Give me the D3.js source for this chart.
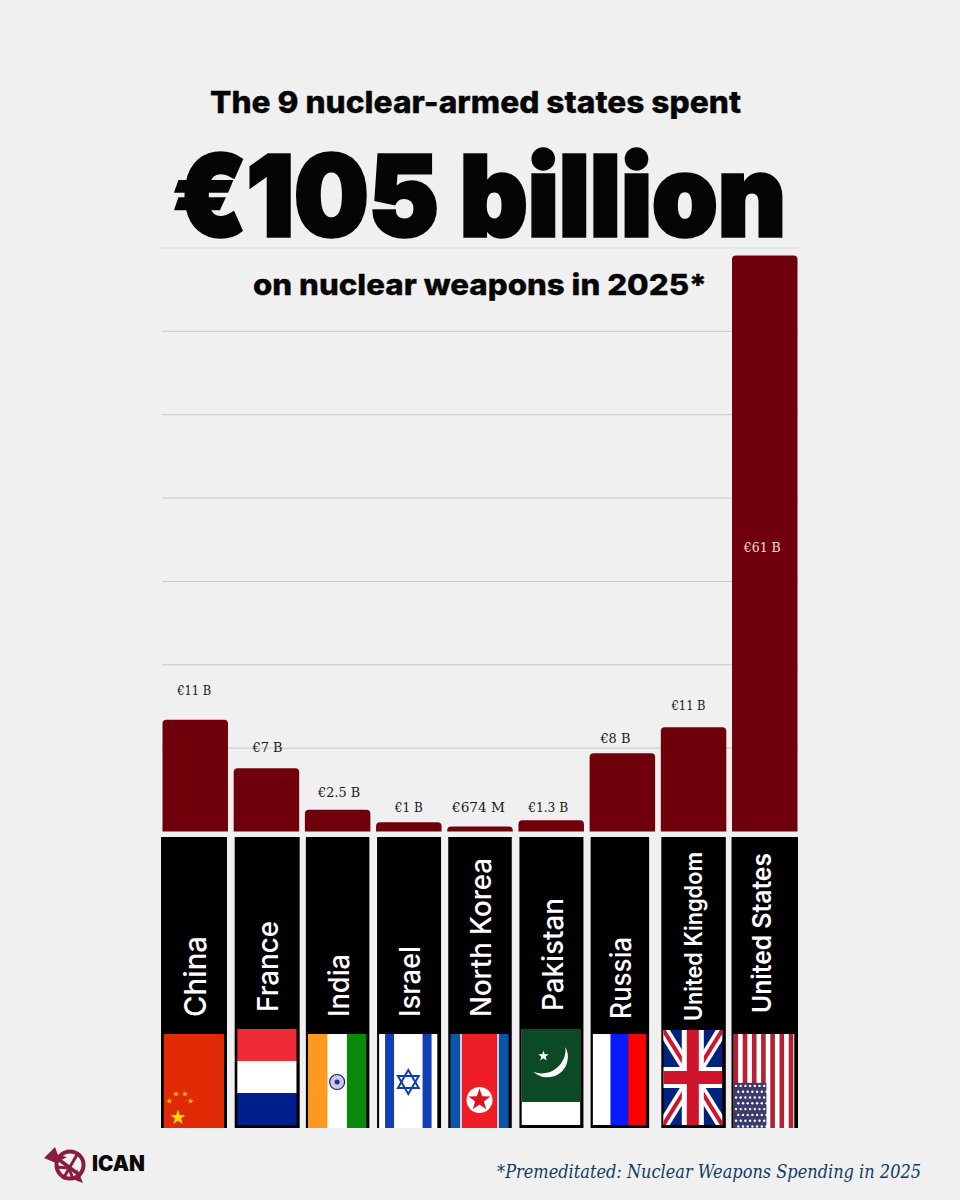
<!DOCTYPE html>
<html>
<head>
<meta charset="utf-8">
<script src="https://cdn.jsdelivr.net/npm/d3@7"></script>
<style>
  html, body { margin: 0; padding: 0; background: #f0f0f0; }
  svg { display: block; }
</style>
</head>
<body>
<div id="chart"></div>
<script>
// Data
const countries = ["China", "France", "India", "Israel", "North Korea", "Pakistan", "Russia", "United Kingdom", "United States"];
const barValues = [13.4, 7.6, 2.6, 1.1, 0.6, 1.35, 9.4, 12.5, 69.1];
const valueLabels = ["€11 B", "€7 B", "€2.5 B", "€1 B", "€674 M", "€1.3 B", "€8 B", "€11 B", "€61 B"];
const gridTicks = [0, 10, 20, 30, 40, 50, 60, 70];

const titleTop = "The 9 nuclear-armed states spent";
const titleBig = "€105 billion";
const titleSub = "on nuclear weapons in 2025*";
const sourceNote = "*Premeditated: Nuclear Weapons Spending in 2025";

// Layout
const W = 960, H = 1200;
const baseY = 831.5, topY = 248;
const panelTop = 837, panelBottom = 1128;

const svg = d3.select("#chart").append("svg").attr("width", W).attr("height", H);
svg.append("rect").attr("width", W).attr("height", H).attr("fill", "#f0f0f0");

const x = d3.scaleBand().domain(countries).range([162.5, 797.5]).paddingInner(0.08);
const y = d3.scaleLinear().domain([0, 70]).range([baseY, topY]);

// Gridlines
svg.append("g")
  .selectAll("line")
  .data(gridTicks.filter((d) => d > 0))
  .join("line")
  .attr("x1", 162)
  .attr("x2", 798)
  .attr("y1", (d) => y(d))
  .attr("y2", (d) => y(d))
  .attr("stroke", (d) => (d === 70 ? "#dcdcdc" : "#c8c8c8"))
  .attr("stroke-width", 1);

// Bars, rounded on top only
const barPath = (d, i) => {
  const x0 = x(countries[i]), x1 = x0 + x.bandwidth(), t = y(d), r = Math.min(4, baseY - t);
  return `M${x0},${baseY}V${t + r}Q${x0},${t} ${x0 + r},${t}H${x1 - r}Q${x1},${t} ${x1},${t + r}V${baseY}Z`;
};
svg.append("g")
  .selectAll("path")
  .data(barValues)
  .join("path")
  .attr("d", barPath)
  .attr("fill", "#6f000b");

// Value labels: the source places these by hand, so nudge each one
const labelNudge = [
  { dx: -1, lift: 29, len: 34 }, { dx: 1, lift: 20, len: 30 }, { dx: 1.5, lift: 17, len: 42 },
  { dx: 0, lift: 14, len: 28 }, { dx: -1.5, lift: 18, len: 53 }, { dx: -3, lift: 12, len: 40 },
  { dx: -7, lift: 14, len: 30 }, { dx: -5, lift: 21, len: 34 }, { dx: -2.5, lift: 0, len: 37 },
];
svg.append("g")
  .selectAll("text")
  .data(valueLabels)
  .join("text")
  .attr("x", (d, i) => x(countries[i]) + x.bandwidth() / 2 + labelNudge[i].dx)
  .attr("y", (d, i) => (i === 8 ? 552 : y(barValues[i]) - labelNudge[i].lift + 4))
  .attr("text-anchor", "middle")
  .attr("font-family", "'DejaVu Serif', serif")
  .attr("font-size", 13)
  .attr("textLength", (d, i) => labelNudge[i].len)
  .attr("lengthAdjust", "spacingAndGlyphs")
  .attr("fill", (d, i) => (i === 8 ? "#f3dede" : "#1a1a1a"))
  .text((d) => d);

// Flags, each drawn in its own local box
const flags = {
  China(g, w, h) {
    g.append("rect").attr("width", w).attr("height", h).attr("fill", "#e02a06");
    star(g, 14.5, h - 10.5, 8, "#ffd500");
    [[5.8, h - 27], [12.5, h - 34], [21.5, h - 34], [27, h - 27]].forEach(([a, b]) => star(g, a, b, 3.2, "#ffb400"));
  },
  France(g, w, h) {
    ["#ef2b38", "#ffffff", "#001f8e"].forEach((c, i) =>
      g.append("rect").attr("y", (i * h) / 3).attr("width", w).attr("height", h / 3 + 0.5).attr("fill", c));
  },
  India(g, w, h) {
    ["#ff9a1f", "#ffffff", "#0a8a0a"].forEach((c, i) =>
      g.append("rect").attr("x", (i * w) / 3).attr("width", w / 3 + 0.5).attr("height", h).attr("fill", c));
    g.append("circle").attr("cx", w / 2).attr("cy", h / 2 + 1).attr("r", 7.5).attr("fill", "#c9c9ea").attr("stroke", "#1c1c70").attr("stroke-width", 1.2);
    g.append("circle").attr("cx", w / 2).attr("cy", h / 2 + 1).attr("r", 2.5).attr("fill", "#2a2a88");
  },
  Israel(g, w, h) {
    g.append("rect").attr("width", w).attr("height", h).attr("fill", "#fff");
    [6, w - 15].forEach((a) => g.append("rect").attr("x", a).attr("width", 9).attr("height", h).attr("fill", "#0f3fb0"));
    const cx = w / 2, cy = h / 2 + 1;
    [0, 180].forEach((rot) => {
      g.append("path")
        .attr("d", "M0,-12L10.4,6H-10.4Z")
        .attr("transform", `translate(${cx},${cy}) rotate(${rot})`)
        .attr("fill", "none").attr("stroke", "#0f3fb0").attr("stroke-width", 2);
    });
  },
  "North Korea"(g, w, h) {
    g.append("rect").attr("width", w).attr("height", h).attr("fill", "#0a55a8");
    g.append("rect").attr("x", 10).attr("width", w - 20).attr("height", h).attr("fill", "#fff");
    g.append("rect").attr("x", 11.5).attr("width", w - 23).attr("height", h).attr("fill", "#ee1c25");
    g.append("circle").attr("cx", w / 2).attr("cy", h / 2 + 19).attr("r", 13).attr("fill", "#fff");
    star(g, w / 2, h / 2 + 19, 11.5, "#d8141e");
  },
  Pakistan(g, w, h) {
    g.append("rect").attr("width", w).attr("height", h).attr("fill", "#fff");
    g.append("rect").attr("width", w).attr("height", h * 0.76).attr("fill", "#0b4a25");
    g.append("path")
      .attr("d", "M44,18A20.6,20.6 0 0 1 12,43A24,24 0 0 0 44,18Z")
      .attr("fill", "#fff");
    star(g, 22, 27, 5.5, "#fff");
  },
  Russia(g, w, h) {
    ["#ffffff", "#0a1aff", "#ff0000"].forEach((c, i) =>
      g.append("rect").attr("x", (i * w) / 3).attr("width", w / 3 + 0.5).attr("height", h).attr("fill", c));
  },
  "United Kingdom"(g, w, h) {
    g.append("rect").attr("width", w).attr("height", h).attr("fill", "#00247d");
    [[0, 0, w, h], [w, 0, 0, h]].forEach(([a, b, c, e]) => {
      g.append("line").attr("x1", a).attr("y1", b).attr("x2", c).attr("y2", e).attr("stroke", "#fff").attr("stroke-width", 11);
      g.append("line").attr("x1", a).attr("y1", b).attr("x2", c).attr("y2", e).attr("stroke", "#cf142b").attr("stroke-width", 4);
    });
    g.append("rect").attr("x", w / 2 - 11).attr("width", 22).attr("height", h).attr("fill", "#fff");
    g.append("rect").attr("y", h / 2 - 10.5).attr("width", w).attr("height", 21).attr("fill", "#fff");
    g.append("rect").attr("x", w / 2 - 6).attr("width", 12).attr("height", h).attr("fill", "#cf142b");
    g.append("rect").attr("y", h / 2 - 6.5).attr("width", w).attr("height", 13).attr("fill", "#cf142b");
  },
  "United States"(g, w, h) {
    g.append("rect").attr("width", w).attr("height", h).attr("fill", "#fff");
    d3.range(0, w, 9.2).forEach((a) =>
      g.append("rect").attr("x", a).attr("width", 4.6).attr("height", h).attr("fill", "#b22234"));
    const cw = w * 0.54, ch = h * 0.48, top = h - ch;
    g.append("rect").attr("y", top).attr("width", cw).attr("height", ch).attr("fill", "#3c3b6e");
    d3.range(0, 8).forEach((r) => d3.range(0, 7).forEach((c) =>
      g.append("circle").attr("cx", 2.5 + c * 4.7 + (r % 2 ? 2.3 : 0)).attr("cy", top + 3 + r * 5.8).attr("r", 1.2).attr("fill", "#fff")));
  },
};

function star(g, cx, cy, r, fill) {
  const pts = d3.range(10).map((i) => {
    const rad = i % 2 ? r * 0.4 : r, a = (i * Math.PI) / 5 - Math.PI / 2;
    return [cx + rad * Math.cos(a), cy + rad * Math.sin(a)];
  });
  g.append("path").attr("d", "M" + pts.join("L") + "Z").attr("fill", fill);
}

// Black panels with the rotated names and the flags. Panel edges and flag boxes
// differ a little from country to country in the reference.
const panelFit = {
  China: { l: -1.5, r: -1, fx: 2.5, fr: 3, ft: 1034, fb: 1128, size: 30, ty: 1017, tx: 12, len: 81 },
  France: { l: 1, r: 0.5, fx: 2.5, fr: 3, ft: 1029, fb: 1125, size: 29, ty: 1012, tx: 10.5, len: 91 },
  India: { l: 1, r: -1, fx: 2, fr: 3, ft: 1034, fb: 1128, size: 29, ty: 1017, tx: 11.5, len: 63 },
  Israel: { l: 1, r: -0.5, fx: 2, fr: 3.5, ft: 1034, fb: 1128, size: 29, ty: 1017, tx: 11, len: 71 },
  "North Korea": { l: 1, r: -1, fx: 2, fr: 3, ft: 1034, fb: 1128, size: 29, ty: 1017, tx: 10.5, len: 159 },
  Pakistan: { l: 1, r: -0.5, fx: 2, fr: 3, ft: 1029, fb: 1125, size: 29, ty: 1011, tx: 11.5, len: 113 },
  Russia: { l: 1, r: -6, fx: 2, fr: 3, ft: 1034, fb: 1125, size: 28, ty: 1019, tx: 11, len: 82 },
  "United Kingdom": { l: 0.5, r: -0.5, fx: 2, fr: 3.5, ft: 1030, fb: 1125, size: 24, ty: 1021, tx: 8, len: 169 },
  "United States": { l: -0.5, r: 0.5, fx: 2, fr: 3.5, ft: 1034, fb: 1128, size: 26, ty: 1013, tx: 6.7, len: 160 },
};

const defs = svg.append("defs");
countries.forEach((c, i) => {
  const f = panelFit[c];
  const left = x(c) + f.l, right = x(c) + x.bandwidth() + f.r;
  const col = svg.append("g");
  col.append("rect")
    .attr("x", left).attr("y", panelTop)
    .attr("width", right - left).attr("height", panelBottom - panelTop)
    .attr("fill", "#000");

  const fw = right - left - f.fx - f.fr, fh = f.fb - f.ft;
  defs.append("clipPath").attr("id", "flag" + i)
    .append("rect").attr("width", fw).attr("height", fh);
  const g = col.append("g")
    .attr("transform", `translate(${left + f.fx},${f.ft})`)
    .attr("clip-path", `url(#flag${i})`);
  flags[c](g, fw, fh);

  col.append("text")
    .attr("transform", `translate(${(left + right) / 2 + f.tx},${f.ty}) rotate(-90)`)
    .attr("font-family", "Inter, 'Noto Sans', sans-serif")
    .attr("font-weight", c.startsWith("United") ? 600 : 500)
    .attr("font-size", f.size)
    .attr("textLength", f.len)
    .attr("lengthAdjust", "spacingAndGlyphs")
    .attr("fill", "#fff")
    .text(c);
});

// Titles, stretched to the widths measured in the reference
const headline = [
  { text: titleTop, cx: 475.5, base: 113, size: 30, weight: 800, len: 531 },
  { text: titleBig, cx: 479.5, base: 236, size: 112, weight: 900, len: 613, stroke: 3.5 },
  { text: titleSub, cx: 480, base: 295, size: 29, weight: 800, len: 454 },
];
svg.append("g")
  .selectAll("text")
  .data(headline)
  .join("text")
  .attr("x", (d) => d.cx)
  .attr("y", (d) => d.base)
  .attr("text-anchor", "middle")
  .attr("font-family", "Inter, 'Open Sans', sans-serif")
  .attr("font-weight", (d) => d.weight)
  .attr("font-size", (d) => d.size)
  .attr("textLength", (d) => d.len)
  .attr("lengthAdjust", "spacingAndGlyphs")
  .attr("fill", "#050505")
  .attr("stroke", "#050505")
  .attr("stroke-width", (d) => d.stroke || 0.3)
  .text((d) => d.text);

// Source note, squeezed with a scale so it ends at the reference's right edge
const note = svg.append("text")
  .attr("text-anchor", "end")
  .attr("font-family", "'DejaVu Serif', serif")
  .attr("font-style", "italic")
  .attr("font-size", 18)
  .attr("fill", "#123a63")
  .text(sourceNote);
note.attr("transform", `translate(921,1178) scale(${424 / note.node().getComputedTextLength()},1)`);

// ICAN logo
const logo = svg.append("g").attr("transform", "translate(70,1165)").attr("fill", "none").attr("stroke", "#8a1c3f");
logo.append("circle").attr("r", 13.5).attr("stroke-width", 4);
logo.append("line").attr("x1", -16).attr("y1", -9).attr("x2", 11).attr("y2", 11).attr("stroke-width", 3.5);
logo.append("path").attr("d", "M-7,14L8,-12M-14,2L-1,3M-1,3L3,14").attr("stroke-width", 3);
logo.append("path").attr("d", "M-26,-7L-15,-18L-12,-10L-3,-8L-14,-2Z").attr("fill", "#8a1c3f").attr("stroke", "none");
logo.append("path").attr("d", "M7,4L13,18L5,15Z").attr("fill", "#8a1c3f").attr("stroke", "none");
svg.append("text")
  .attr("x", 92).attr("y", 1171)
  .attr("font-family", "Inter, sans-serif")
  .attr("font-weight", 900)
  .attr("font-size", 21)
  .attr("textLength", 53)
  .attr("lengthAdjust", "spacingAndGlyphs")
  .attr("fill", "#0a0a0a")
  .text("ICAN");
</script>
</body>
</html>
